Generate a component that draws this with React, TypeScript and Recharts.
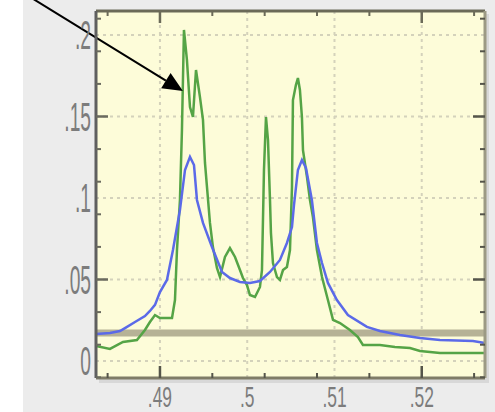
import React from 'react';
import { LineChart, Line, XAxis, YAxis, CartesianGrid, ReferenceLine } from 'recharts';

// measured spectrum (noisy trace)
const measuredX = [
  0.48267, 0.48427, 0.48576, 0.48736, 0.48828, 0.48885, 0.48943, 0.49, 0.49138, 0.49172,
  0.49195, 0.49229, 0.49252, 0.49275, 0.49309, 0.49344, 0.49378, 0.49413, 0.49458, 0.49493,
  0.49516, 0.49539, 0.49573, 0.49607, 0.49653, 0.49688, 0.49745, 0.49802, 0.4986, 0.49917,
  0.49951, 0.49997, 0.50031, 0.50089, 0.50146, 0.50169, 0.50192, 0.50215, 0.50238, 0.50261,
  0.50272, 0.50295, 0.50341, 0.50375, 0.5041, 0.50455, 0.5049, 0.50513, 0.50524, 0.50558,
  0.50581, 0.50604, 0.50627, 0.50639, 0.50685, 0.50719, 0.50753, 0.50799, 0.50857, 0.50925,
  0.50983, 0.51063, 0.51177, 0.51269, 0.51326, 0.51521, 0.51693, 0.51865, 0.5198, 0.52209,
  0.52438, 0.52725,
];
const measuredY = [
  0.0092, 0.0074, 0.0117, 0.0129, 0.019, 0.0239, 0.0282, 0.0264, 0.0264, 0.0374,
  0.0681, 0.0988, 0.1417, 0.2031, 0.1847, 0.1558, 0.1497, 0.1785, 0.162, 0.1479,
  0.1215, 0.1067, 0.0847, 0.0699, 0.0571, 0.0515, 0.0638, 0.0693, 0.0638, 0.0558,
  0.0509, 0.0466, 0.0405, 0.0393, 0.0454, 0.0558, 0.1172, 0.1497, 0.1356, 0.0988,
  0.0785, 0.0601, 0.0515, 0.0497, 0.0558, 0.0577, 0.0681, 0.1067, 0.1601, 0.1693,
  0.1736, 0.1663, 0.1497, 0.1294, 0.1129, 0.0988, 0.0883, 0.0681, 0.0515, 0.0374,
  0.0252, 0.0233, 0.019, 0.0147, 0.0098, 0.0098, 0.0086, 0.008, 0.0061, 0.0049,
  0.0049, 0.0049,
];

// fitted model (smooth trace)
const fitX = [
  0.48267, 0.48427, 0.48542, 0.48599, 0.48714, 0.48828, 0.48885, 0.48943, 0.49, 0.4908,
  0.49149, 0.49229, 0.49287, 0.49344, 0.4939, 0.49424, 0.49493, 0.49596, 0.49711, 0.49802,
  0.49917, 0.50031, 0.50146, 0.50261, 0.50375, 0.50455, 0.50513, 0.50536, 0.50581, 0.50627,
  0.50673, 0.50741, 0.50799, 0.50857, 0.50925, 0.51028, 0.51154, 0.51372, 0.51521, 0.5175,
  0.5198, 0.52209, 0.52587, 0.52725,
];
const fitY = [
  0.0166, 0.0172, 0.0184, 0.0202, 0.0239, 0.0276, 0.0307, 0.0344, 0.0423, 0.0497,
  0.0681, 0.0926, 0.1172, 0.1252, 0.1202, 0.0988, 0.0847, 0.0699, 0.0546, 0.0509,
  0.0485, 0.0479, 0.0491, 0.0546, 0.062, 0.0724, 0.0822, 0.0957, 0.1172, 0.1233,
  0.1184, 0.0988, 0.0724, 0.0601, 0.0479, 0.0374, 0.0282, 0.0209, 0.0184, 0.016,
  0.0141, 0.0129, 0.0123, 0.011,
];

const xTicks = [0.49, 0.5, 0.51, 0.52];
const yTicks = [0, 0.05, 0.1, 0.15, 0.2];
const baseline = 0.0172;
const arrowFrom = { x: 0.47511, y: 0.2233 };
const arrowTo = { x: 0.49263, y: 0.1656 };

const X_DOMAIN: [number, number] = [0.48267, 0.52725];
const Y_DOMAIN: [number, number] = [-0.01043, 0.21472];

const steps = (from: number, to: number, step: number) => {
  const out: number[] = [];
  for (let v = from; v <= to + 1e-9; v += step) out.push(Number(v.toFixed(4)));
  return out;
};
const xMinor = steps(0.484, 0.526, 0.002);
const yMinor = steps(-0.01, 0.21, 0.01);

const measured = measuredX.map((x, i) => ({ x, y: measuredY[i] }));
const fit = fitX.map((x, i) => ({ x, y: fitY[i] }));

const fmt = (v: number) => (v === 0 ? '0' : String(v).replace(/^0/, ''));
const isMajor = (v: number, majors: number[]) => majors.some((m) => Math.abs(m - v) < 1e-6);

const FONT = '"Liberation Sans", Arial, sans-serif';

const YTick = (props: any) => {
  const { x, y, payload } = props;
  return (
    <g transform={`translate(${x},${y})`}>
      <text transform="scale(0.48,1)" textAnchor="end" dy="0.36em" fontSize={40} fill="#7c7c7c" fontFamily={FONT}>
        {fmt(payload.value)}
      </text>
    </g>
  );
};

const XTick = (props: any) => {
  const { x, y, payload } = props;
  return (
    <g transform={`translate(${x},${y})`}>
      <text transform="scale(0.58,1)" textAnchor="middle" dy="0.72em" fontSize={30} fill="#7c7c7c" fontFamily={FONT}>
        {fmt(payload.value)}
      </text>
    </g>
  );
};

// inward tick marks drawn along the box edges, majors longer than minors
const EdgeTick = (props: any) => {
  const { x, y, payload, side, majors, color } = props;
  const len = isMajor(payload.value, majors) ? 12 : 5;
  const w = isMajor(payload.value, majors) ? 2.5 : 2;
  let x2 = x;
  let y2 = y;
  if (side === 'left') x2 = x + len;
  if (side === 'right') x2 = x - len;
  if (side === 'top') y2 = y + len;
  if (side === 'bottom') y2 = y - len;
  return <line x1={x} y1={y} x2={x2} y2={y2} stroke={color} strokeWidth={w} />;
};

const Arrow = (props: any) => {
  const { x1, y1, x2, y2 } = props;
  const dx = x2 - x1;
  const dy = y2 - y1;
  const len = Math.sqrt(dx * dx + dy * dy) || 1;
  const ux = dx / len;
  const uy = dy / len;
  const bx = x2 - ux * 20;
  const by = y2 - uy * 20;
  const nx = -uy * 9;
  const ny = ux * 9;
  return (
    <g>
      <line x1={x1} y1={y1} x2={bx} y2={by} stroke="#000" strokeWidth={2} />
      <polygon points={`${x2},${y2} ${bx + nx},${by + ny} ${bx - nx},${by - ny}`} fill="#000" />
    </g>
  );
};

export default function App() {
  return (
    <div
      style={{
        position: 'absolute',
        left: 0,
        top: 0,
        width: 495,
        height: 412,
        background: 'linear-gradient(to right, #ffffff 23px, #ececec 23px)',
        overflow: 'hidden',
      }}
    >
      {/* drop shadow under the axes box */}
      <div style={{ position: 'absolute', left: 99, top: 14, width: 390, height: 369, background: '#d8d8d8' }} />
      <div style={{ position: 'absolute', left: 0, top: 0 }}>
        <LineChart width={495} height={412} margin={{ top: 11, right: 10, bottom: 0, left: 0 }}>
          <CartesianGrid
            fill="#fdfcd9"
            stroke="#d4d2bb"
            strokeWidth={2}
            strokeDasharray="3 4"
          />
          {/* labelled axes */}
          <XAxis
            dataKey="x"
            type="number"
            domain={X_DOMAIN}
            allowDataOverflow
            ticks={xTicks}
            height={34}
            tickSize={0}
            tickMargin={7}
            tickLine={false}
            axisLine={false}
            tick={<XTick />}
          />
          <YAxis
            type="number"
            domain={Y_DOMAIN}
            allowDataOverflow
            ticks={yTicks}
            width={96}
            tickSize={0}
            tickMargin={5}
            tickLine={false}
            axisLine={false}
            tick={<YTick />}
          />
          {/* box edges with inner tick marks */}
          <XAxis xAxisId="bottomEdge" dataKey="x" type="number" domain={X_DOMAIN} allowDataOverflow ticks={xMinor}
            mirror orientation="bottom" tickSize={0} tickMargin={0} tickLine={false}
            tick={<EdgeTick side="bottom" majors={xTicks} color="#55554a" />}
            axisLine={{ stroke: '#7f7c68', strokeWidth: 3 }} />
          <XAxis xAxisId="topEdge" dataKey="x" type="number" domain={X_DOMAIN} allowDataOverflow ticks={xMinor}
            mirror orientation="top" tickSize={0} tickMargin={0} tickLine={false}
            tick={<EdgeTick side="top" majors={xTicks} color="#6b6a58" />}
            axisLine={{ stroke: '#6b6a58', strokeWidth: 3 }} />
          <YAxis yAxisId="leftEdge" type="number" domain={Y_DOMAIN} allowDataOverflow ticks={yMinor}
            mirror orientation="left" tickSize={0} tickMargin={0} tickLine={false}
            tick={<EdgeTick side="left" majors={yTicks} color="#6a6a5e" />}
            axisLine={{ stroke: '#5f5f5f', strokeWidth: 3 }} />
          <YAxis yAxisId="rightEdge" type="number" domain={Y_DOMAIN} allowDataOverflow ticks={yMinor}
            mirror orientation="right" tickSize={0} tickMargin={0} tickLine={false}
            tick={<EdgeTick side="right" majors={yTicks} color="#55554a" />}
            axisLine={{ stroke: '#9c9a84', strokeWidth: 3 }} />

          <ReferenceLine y={baseline} stroke="#b6b296" strokeWidth={7} />
          <Line
            data={measured}
            dataKey="y"
            type="linear"
            stroke="#55a446"
            strokeWidth={2.5}
            dot={false}
            isAnimationActive={false}
          />
          <Line
            data={fit}
            dataKey="y"
            type="linear"
            stroke="#5b6ae8"
            strokeWidth={2.5}
            dot={false}
            isAnimationActive={false}
          />
          <ReferenceLine
            segment={[arrowFrom, arrowTo]}
            ifOverflow="visible"
            shape={<Arrow />}
          />
        </LineChart>
      </div>
    </div>
  );
}
